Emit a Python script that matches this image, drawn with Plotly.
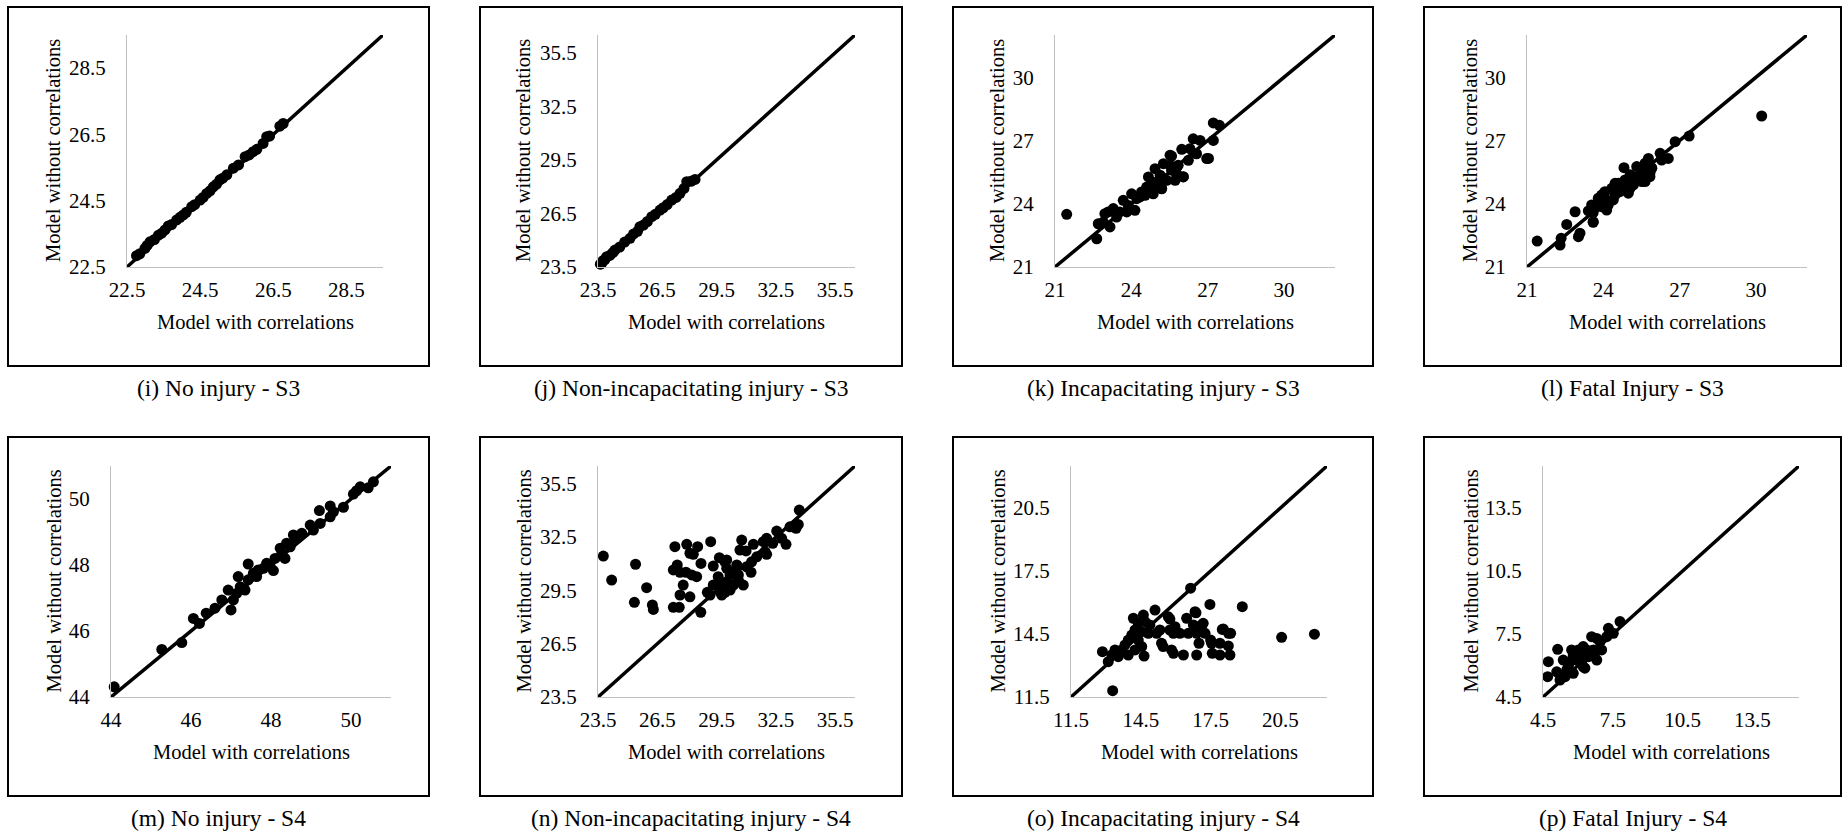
import plotly.graph_objects as go

# ---------------- data ----------------
captions = ["(i) No injury - S3", "(j) Non-incapacitating injury - S3",
            "(k) Incapacitating injury - S3", "(l) Fatal Injury - S3",
            "(m) No injury - S4", "(n) Non-incapacitating injury - S4",
            "(o) Incapacitating injury - S4", "(p) Fatal Injury - S4"]
x_title = "Model with correlations"
y_title = "Model without correlations"

axis_ranges = [[22.5, 29.5], [23.5, 36.5], [21, 32], [21, 32],
               [44, 51], [23.5, 36.5], [11.5, 22.5], [4.5, 15.5]]
tick_values = [[22.5, 24.5, 26.5, 28.5], [23.5, 26.5, 29.5, 32.5, 35.5],
               [21, 24, 27, 30], [21, 24, 27, 30],
               [44, 46, 48, 50], [23.5, 26.5, 29.5, 32.5, 35.5],
               [11.5, 14.5, 17.5, 20.5], [4.5, 7.5, 10.5, 13.5]]
tick_labels = [["22.5", "24.5", "26.5", "28.5"], ["23.5", "26.5", "29.5", "32.5", "35.5"],
               ["21", "24", "27", "30"], ["21", "24", "27", "30"],
               ["44", "46", "48", "50"], ["23.5", "26.5", "29.5", "32.5", "35.5"],
               ["11.5", "14.5", "17.5", "20.5"], ["4.5", "7.5", "10.5", "13.5"]]

i_x = [22.76, 22.85, 22.99, 23.05, 23.13, 23.25, 23.36, 23.45, 23.54, 23.63, 23.72, 23.86, 23.95,
       24.04, 24.12, 24.27, 24.35, 24.5, 24.58, 24.68, 24.77, 24.86, 24.95, 25.04, 25.12, 25.23,
       25.41, 25.55, 25.73, 25.84, 25.95, 26.05, 26.22, 26.32, 26.4, 26.68, 26.77]
i_y = [22.84, 22.9, 23.06, 23.15, 23.26, 23.33, 23.46, 23.52, 23.62, 23.74, 23.78, 23.92, 24.0,
       24.07, 24.15, 24.32, 24.38, 24.52, 24.6, 24.72, 24.8, 24.92, 25.0, 25.13, 25.18, 25.28,
       25.48, 25.58, 25.83, 25.88, 25.98, 26.05, 26.23, 26.43, 26.45, 26.75, 26.83]

j_x = [23.62, 23.69, 23.75, 23.84, 23.94, 24.1, 24.25, 24.36, 24.6, 24.85, 25.12, 25.3, 25.5, 25.62,
       25.8, 26.0, 26.22, 26.4, 26.64, 26.8, 27.0, 27.23, 27.45, 27.65, 27.85, 27.99, 28.2, 28.41]
j_y = [23.66, 23.71, 23.85, 23.9, 24.08, 24.15, 24.3, 24.45, 24.62, 24.9, 25.11, 25.35, 25.5, 25.76,
       25.85, 26.05, 26.32, 26.45, 26.69, 26.82, 27.0, 27.25, 27.4, 27.63, 27.9, 28.28, 28.3, 28.41]

k_x = [21.46, 22.64, 22.7, 22.96, 23.16, 23.09, 23.29, 23.55, 23.68, 23.88, 24.01, 24.14, 24.21,
       24.4, 24.6, 24.54, 24.67, 24.8, 25.0, 24.93, 25.13, 25.26, 25.19, 25.39, 25.52, 25.58, 25.72,
       25.84, 25.98, 26.04, 26.24, 26.43, 26.56, 26.7, 26.96, 27.22, 27.22, 27.46, 24.34, 23.82,
       23.42, 22.9, 24.86, 25.26, 25.78, 26.3, 25.52, 24.8, 27.03, 25.58, 26.04, 25.19]
k_y = [23.5, 22.34, 23.05, 23.53, 22.9, 23.61, 23.77, 23.61, 24.16, 23.92, 24.47, 23.69, 24.24,
       24.56, 24.79, 24.4, 25.27, 24.64, 25.03, 25.66, 25.35, 25.9, 24.71, 25.11, 26.3, 25.59, 25.11,
       25.82, 26.58, 25.27, 26.06, 27.08, 26.37, 27.0, 26.14, 27.0, 27.83, 27.72, 24.32, 23.61,
       23.37, 23.13, 24.47, 25.19, 25.43, 26.61, 25.82, 25.03, 26.15, 26.26, 25.28, 24.73]

l_x = [21.4, 22.34, 22.3, 22.56, 22.89, 23.08, 23.02, 23.6, 23.41, 23.54, 23.8, 23.93, 24.06, 24.19,
       24.33, 24.46, 24.59, 24.81, 24.85, 24.98, 25.05, 25.31, 25.18, 25.51, 25.57, 25.77, 25.83,
       25.9, 26.23, 26.29, 26.55, 26.82, 27.37, 30.22, 23.6, 24.13, 24.65, 24.39, 25.05, 23.74,
       25.31, 25.64, 24.78, 23.93, 24.46, 25.64, 25.83, 25.9, 23.6, 24.13]
l_y = [22.23, 22.36, 22.04, 23.02, 23.62, 22.6, 22.44, 23.12, 23.66, 23.94, 24.26, 23.86, 24.57,
       23.94, 24.73, 24.41, 24.97, 25.71, 25.13, 24.5, 25.37, 25.76, 24.89, 25.05, 25.52, 26.15,
       25.28, 25.68, 26.39, 26.07, 26.15, 26.94, 27.21, 28.16, 23.58, 24.18, 24.57, 24.18, 24.73,
       23.86, 25.28, 25.92, 24.73, 24.41, 24.97, 25.05, 25.46, 25.7, 23.15, 23.7]

m_x = [44.08, 45.27, 45.77, 46.06, 46.21, 46.38, 46.6, 46.77, 47.0, 46.93, 47.06, 47.18, 47.23,
       47.35, 47.43, 47.43, 47.56, 47.68, 47.81, 47.89, 48.06, 48.1, 48.23, 48.35, 48.39, 48.56,
       48.6, 48.77, 48.98, 49.06, 49.23, 49.21, 49.48, 49.48, 49.81, 50.14, 50.23, 50.43, 50.56,
       49.56, 50.06, 47.14, 47.64, 47.98, 48.27, 48.48]
m_y = [44.31, 45.44, 45.65, 46.38, 46.23, 46.54, 46.69, 46.94, 46.64, 47.24, 46.94, 47.65, 47.34,
       47.24, 48.03, 47.55, 47.75, 47.85, 47.9, 48.05, 47.83, 48.2, 48.51, 48.2, 48.66, 48.91,
       48.81, 48.96, 49.21, 49.06, 49.26, 49.65, 49.79, 49.46, 49.75, 50.25, 50.37, 50.34, 50.52,
       49.61, 50.15, 47.14, 47.65, 47.95, 48.35, 48.55]

n_x = [23.77, 24.19, 25.4, 25.34, 25.96, 26.25, 26.3, 27.31, 27.61, 27.39,
       27.99, 28.54, 28.15, 28.32, 29.2, 27.51, 27.31, 27.65, 27.95, 28.24,
       28.49, 28.71, 29.33, 27.81, 27.65, 28.15, 28.7, 29.03, 29.64, 29.92,
       30.77, 30.68, 30.99, 31.36, 30.85, 30.01, 30.52, 29.58, 29.47, 29.76,
       30.01, 30.18, 30.43, 29.84, 30.18, 29.67, 29.33, 29.92, 30.6, 31.02,
       31.27, 31.24, 31.53, 31.95, 32.03, 32.03, 32.34, 32.54, 32.79, 33.01,
       33.21, 33.52, 33.63, 33.68, 31.86, 30.6, 29.17, 29.76, 30.35, 30.01]
n_y = [31.43, 30.08, 30.97, 28.83, 29.65, 28.68, 28.43, 28.55, 28.55, 31.96,
       32.09, 31.96, 31.59, 31.53, 32.24, 30.93, 30.65, 30.52, 30.52, 30.37,
       30.27, 31.02, 30.87, 29.8, 29.24, 29.14, 28.27, 29.39, 31.34, 31.11,
       32.33, 31.77, 31.72, 32.09, 29.8, 30.74, 30.93, 30.27, 29.8, 29.52,
       29.99, 30.37, 30.55, 29.8, 29.52, 29.43, 29.8, 29.39, 30.37, 30.83,
       31.11, 30.52, 31.39, 31.68, 31.53, 32.43, 32.15, 32.84, 32.43, 32.09,
       33.08, 32.99, 33.21, 34.02, 32.24, 30.08, 29.24, 29.24, 29.8, 31.21]

o_x = [16.64, 17.47, 18.86, 20.55, 21.96, 13.29, 12.85, 15.11, 14.61, 14.39,
       14.68, 14.89, 14.25, 14.54, 14.11, 14.82, 15.18, 15.32, 13.96, 14.39,
       13.82, 14.54, 13.68, 13.39, 13.25, 13.53, 13.1, 13.96, 14.64, 14.25,
       15.75, 15.75, 15.97, 15.9, 16.18, 16.47, 16.83, 16.76, 17.12, 16.54,
       16.9, 17.26, 15.39, 15.46, 15.82, 15.9, 16.33, 16.9, 17.0, 17.54,
       17.57, 17.9, 17.9, 18.26, 18.33, 18.04, 18.36, 14.18, 15.68, 16.87,
       17.18, 17.5, 18.0, 18.27]
o_y = [16.68, 15.91, 15.8, 14.34, 14.49, 11.8, 13.66, 15.64, 15.4, 15.01,
       15.09, 14.93, 14.69, 14.61, 14.45, 14.53, 14.53, 14.69, 14.21, 14.21,
       13.98, 13.9, 13.74, 13.74, 13.5, 13.42, 13.18, 13.5, 13.45, 13.74,
       15.21, 14.69, 14.85, 14.53, 14.53, 15.25, 15.56, 14.93, 14.93, 14.53,
       14.53, 14.53, 14.06, 13.9, 13.74, 13.58, 13.5, 13.5, 14.06, 14.06,
       13.58, 13.5, 14.06, 13.93, 13.5, 14.74, 14.53, 15.25, 15.32, 15.51,
       15.01, 14.21, 14.72, 14.53]

p_x = [4.73, 4.7, 5.13, 5.09, 5.23, 5.45, 5.37, 5.59, 5.73, 5.8,
       5.95, 6.09, 6.23, 6.3, 6.23, 6.45, 6.59, 6.66, 6.81, 6.95,
       7.02, 7.31, 7.52, 7.81, 5.8, 6.16, 6.38, 6.81, 6.73, 7.24,
       5.52, 5.66, 6.02]
p_y = [6.18, 5.47, 6.77, 5.7, 5.31, 5.47, 6.26, 5.94, 6.74, 5.63,
       6.26, 6.58, 5.94, 5.87, 6.9, 6.42, 7.37, 6.74, 6.26, 7.13,
       6.74, 7.77, 7.53, 8.09, 6.5, 6.18, 6.74, 7.29, 6.58, 7.37,
       5.79, 6.18, 6.74]

series_x = [i_x, j_x, k_x, l_x, m_x, n_x, o_x, p_x]
series_y = [i_y, j_y, k_y, l_y, m_y, n_y, o_y, p_y]

# ---------------- layout (pixel geometry) ----------------
W, H = 1842, 835
FONT = "Liberation Serif, Times New Roman, DejaVu Serif, serif"
plot_px = [(127, 383, 35, 267), (598, 855, 35, 267), (1055, 1335, 35, 267), (1527, 1807, 35, 267),
           (111, 391, 466, 697), (598, 855, 466, 697), (1071, 1327, 466, 697), (1543, 1799, 466, 697)]
frame_px = [(8, 429, 7, 366), (480, 902, 7, 366), (953, 1373, 7, 366), (1424, 1841, 7, 366),
            (8, 429, 437, 796), (480, 902, 437, 796), (953, 1373, 437, 796), (1424, 1841, 437, 796)]
ytitle_x = [53, 523, 997, 1470, 53, 523, 997, 1470]
xtitle_y = [322, 322, 322, 322, 752, 752, 752, 752]
caption_y = [388, 388, 388, 388, 818, 818, 818, 818]


def px(x):
    return x / W


def py(y):
    return 1 - y / H


fig = go.Figure()
annotations = []
shapes = []
layout_axes = {}

for k in range(8):
    n = k + 1
    xa = "x" if n == 1 else f"x{n}"
    ya = "y" if n == 1 else f"y{n}"
    lo, hi = axis_ranges[k]
    L, R, T, B = plot_px[k]

    fig.add_trace(go.Scatter(x=[lo, hi], y=[lo, hi], mode="lines",
                             line=dict(color="black", width=3.5),
                             xaxis=xa, yaxis=ya, showlegend=False, hoverinfo="skip"))
    fig.add_trace(go.Scatter(x=series_x[k], y=series_y[k], mode="markers",
                             marker=dict(color="black", size=11, line=dict(width=0)),
                             xaxis=xa, yaxis=ya, showlegend=False, cliponaxis=False))

    common = dict(showgrid=False, zeroline=False, showline=True, linecolor="#BFBFBF",
                  linewidth=1.3, ticks="", range=[lo, hi], automargin=False,
                  tickfont=dict(family=FONT, size=21, color="black"), fixedrange=True)
    layout_axes["xaxis" if n == 1 else f"xaxis{n}"] = dict(
        domain=[px(L), px(R)], anchor=ya, tickvals=tick_values[k], ticktext=tick_labels[k],
        ticklabelstandoff=4, **common)
    layout_axes["yaxis" if n == 1 else f"yaxis{n}"] = dict(
        domain=[py(B), py(T)], anchor=xa, tickvals=tick_values[k], ticktext=tick_labels[k],
        ticklabelstandoff=16, **common)

    fl, fr, ft, fb = frame_px[k]
    shapes.append(dict(type="rect", xref="paper", yref="paper",
                       x0=px(fl), x1=px(fr), y0=py(fb), y1=py(ft),
                       line=dict(color="black", width=2), fillcolor="rgba(0,0,0,0)", layer="below"))

    annotations.append(dict(text=x_title, xref="paper", yref="paper",
                            x=px((L + R) / 2), y=py(xtitle_y[k]), xanchor="center", yanchor="middle",
                            showarrow=False, font=dict(family=FONT, size=20.5, color="black")))
    annotations.append(dict(text=y_title, xref="paper", yref="paper", textangle=-90,
                            x=px(ytitle_x[k]), y=py((T + B) / 2), xanchor="center", yanchor="middle",
                            showarrow=False, font=dict(family=FONT, size=20.5, color="black")))
    annotations.append(dict(text=captions[k], xref="paper", yref="paper",
                            x=px((fl + fr) / 2), y=py(caption_y[k]), xanchor="center", yanchor="middle",
                            showarrow=False, font=dict(family=FONT, size=23.5, color="black")))

fig.update_layout(width=W, height=H,
                  margin=dict(l=0, r=0, t=0, b=0, pad=0, autoexpand=False),
                  paper_bgcolor="white", plot_bgcolor="white",
                  showlegend=False, annotations=annotations, shapes=shapes, **layout_axes)

fig.write_html("out.html", config={"displayModeBar": False},
               post_script="document.body.style.margin='0';document.body.style.padding='0';"
                           "document.body.style.overflow='hidden';")
